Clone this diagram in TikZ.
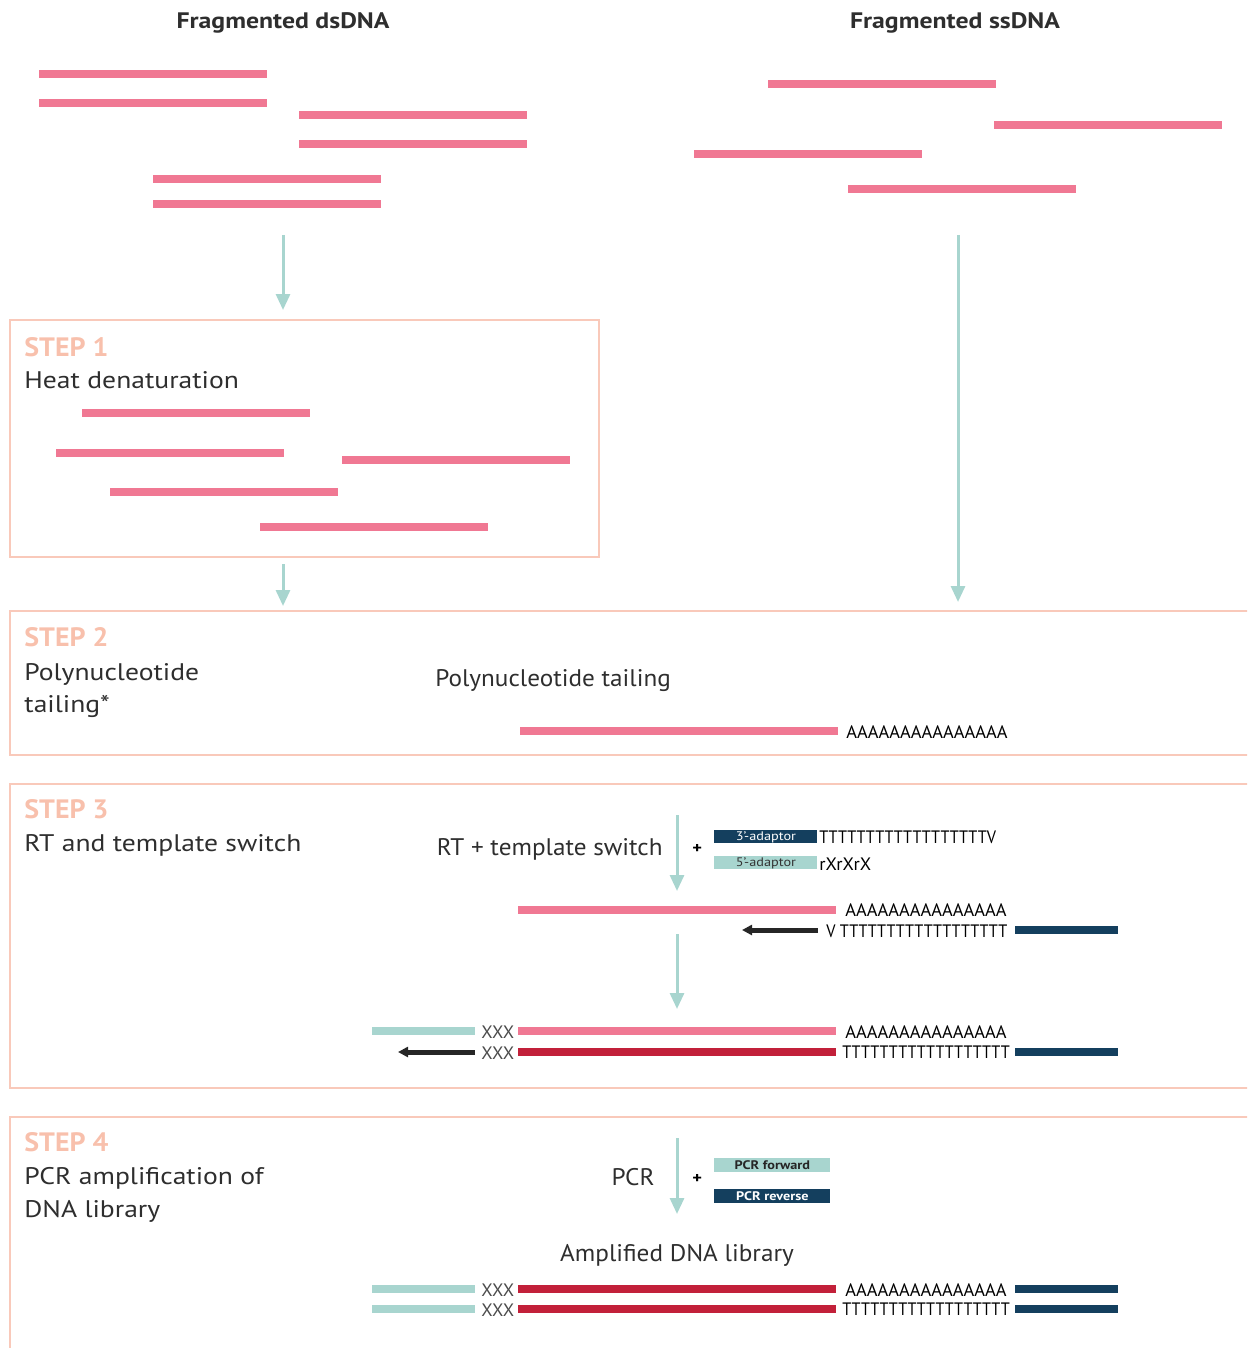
\documentclass[tikz,border=0pt]{standalone}
\usepackage{fontspec}
\setmainfont{PT Sans}[FakeStretch=1.15]
\newfontfamily\midfont{PT Sans}[FakeStretch=1.05]
\newfontfamily\seqafont{PT Sans}[FakeStretch=1.02]
\newfontfamily\seqtfont{PT Sans}[FakeStretch=0.9]
\usepackage{xcolor}
\usetikzlibrary{arrows.meta, positioning}

\definecolor{dnapink}{HTML}{F07893}
\definecolor{dnared}{HTML}{C2203A}
\definecolor{adaptblue}{HTML}{143F5E}
\definecolor{adaptteal}{HTML}{A8D5CF}
\definecolor{boxpeach}{HTML}{F9C9BA}
\definecolor{steppeach}{HTML}{F8C0AC}
\definecolor{txtgrey}{HTML}{2E2E2E}

\begin{document}
\begin{tikzpicture}[
    x=0.5pt, y=-0.5pt,
    strand/.style={line width=4pt, color=dnapink},
    rstrand/.style={line width=4pt, color=dnared},
    tstrand/.style={line width=4pt, color=adaptteal},
    bstrand/.style={line width=4pt, color=adaptblue},
    title/.style={font=\fontsize{11.2}{13}\selectfont\bfseries, text=txtgrey, inner sep=0pt},
    steplbl/.style={font=\midfont\fontsize{13.3}{15}\selectfont\bfseries, text=steppeach, anchor=base west, inner sep=0pt},
    body/.style={font=\fontsize{12}{14}\selectfont, text=txtgrey, anchor=base west, inner sep=0pt},
    midtxt/.style={font=\midfont\fontsize{12}{14}\selectfont, text=txtgrey, anchor=base west, inner sep=0pt},
    seq/.style={font=\seqafont\fontsize{9}{10}\selectfont, text=black, anchor=base west, inner sep=0pt},
    seqt/.style={seq, font=\seqtfont\fontsize{9}{10}\selectfont},
    xxx/.style={font=\seqafont\fontsize{9}{10}\selectfont, text=black!70, anchor=base west, inner sep=0pt},
    plus/.style={font=\fontsize{8}{9}\selectfont\bfseries, text=black, anchor=base west, inner sep=0pt},
    adbox/.style={rectangle, minimum width=51.5pt, minimum height=6.5pt, inner sep=0pt, anchor=north west, font=\fontsize{6.2}{7}\selectfont},
    stepbox/.style={draw=boxpeach, line width=1pt},
    arr/.style={-{Triangle[width=7pt,length=8pt]}, line width=1.5pt, color=adaptteal},
    barr/.style={-{Triangle[width=5pt,length=5pt]}, line width=2.5pt, color=black!85}
]
\clip (0,0) rectangle (1247,1348);

% titles
\node[title] (ds_title) at (283,23) {Fragmented dsDNA};
\node[title] (ss_title) at (955,23) {Fragmented ssDNA};

% fragmented dsDNA
\draw[strand] (39,74) -- (267,74);
\draw[strand] (39,103) -- (267,103);
\draw[strand] (299,115) -- (527,115);
\draw[strand] (299,144) -- (527,144);
\draw[strand] (153,179) -- (381,179);
\draw[strand] (153,204) -- (381,204);

% fragmented ssDNA
\draw[strand] (768,84) -- (996,84);
\draw[strand] (994,125) -- (1222,125);
\draw[strand] (694,154) -- (922,154);
\draw[strand] (848,189) -- (1076,189);

% step boxes
\draw[stepbox] (10,320) rectangle (599,557);
\draw[stepbox] (1260,611) -- (10,611) -- (10,755) -- (1260,755);
\draw[stepbox] (1260,784) -- (10,784) -- (10,1088) -- (1260,1088);
\draw[stepbox] (1260,1117) -- (10,1117) -- (10,1360);

% step 1
\node[steplbl] (s1_lbl) at (24,356) {STEP 1};
\node[body] (s1_txt) at (24,388) {Heat denaturation};
\draw[strand] (82,413) -- (310,413);
\draw[strand] (56,453) -- (284,453);
\draw[strand] (342,460) -- (570,460);
\draw[strand] (110,492) -- (338,492);
\draw[strand] (260,527) -- (488,527);

% step 2
\node[steplbl] (s2_lbl) at (24,646) {STEP 2};
\node[body] (s2_txt) at (24,680) {Polynucleotide};
\node[body] (s2_txt2) at (24,712) {tailing*};
\node[midtxt] (tail_txt) at (435,686) {Polynucleotide tailing};
\draw[strand] (520,731) -- (838,731);
\node[seq] (tail_a) at (846,738) {AAAAAAAAAAAAAAA};

% step 3
\node[steplbl] (s3_lbl) at (24,818) {STEP 3};
\node[body] (s3_txt) at (24,851) {RT and template switch};
\node[midtxt, anchor=base east] (rt_txt) at (663,855) {RT + template switch};
\node[plus] (rt_plus) at (692,853) {+};
\node[adbox, fill=adaptblue, text=white] (ad3) at (714,830) {3’-adaptor};
\node[seqt] (ad3_t) at (819,843) {TTTTTTTTTTTTTTTTTTV};
\node[adbox, fill=adaptteal, text=black!80] (ad5) at (714,856) {5’-adaptor};
\node[seq] (ad5_r) at (819,870) {rXrXrX};

\draw[strand] (518,910) -- (836,910);
\node[seq] (rt_a) at (845,916) {AAAAAAAAAAAAAAA};
\node[seqt] (rt_t) at (826,937) {V TTTTTTTTTTTTTTTTTT};
\draw[bstrand] (1015,930) -- (1118,930);

\draw[tstrand] (372,1031) -- (475,1031);
\node[xxx] (sw_x1) at (481,1038) {XXX};
\draw[strand] (518,1031) -- (836,1031);
\node[seq] (sw_a) at (845,1038) {AAAAAAAAAAAAAAA};
\node[xxx] (sw_x2) at (481,1059) {XXX};
\draw[rstrand] (518,1052) -- (836,1052);
\node[seqt] (sw_t) at (842,1058) {TTTTTTTTTTTTTTTTTT};
\draw[bstrand] (1015,1052) -- (1118,1052);

% step 4
\node[steplbl] (s4_lbl) at (24,1151) {STEP 4};
\node[body] (s4_txt) at (24,1184) {PCR amplification of};
\node[body] (s4_txt2) at (24,1217) {DNA library};
\node[midtxt, anchor=base east] (pcr_txt) at (655,1185) {PCR};
\node[plus] (pcr_plus) at (692,1183) {+};
\node[adbox, fill=adaptteal, text=black!85, minimum width=58pt, minimum height=7pt, font=\fontsize{6.2}{7}\selectfont\bfseries] (pcr_fw) at (714,1158) {PCR forward};
\node[adbox, fill=adaptblue, text=white, minimum width=58pt, minimum height=7pt, font=\fontsize{6.2}{7}\selectfont\bfseries] (pcr_rv) at (714,1189) {PCR reverse};
\node[midtxt, anchor=base] (lib_txt) at (677,1261) {Amplified DNA library};

\draw[tstrand] (372,1289) -- (475,1289);
\node[xxx] (lib_x1) at (481,1296) {XXX};
\draw[rstrand] (518,1289) -- (836,1289);
\node[seq] (lib_a) at (845,1296) {AAAAAAAAAAAAAAA};
\draw[bstrand] (1015,1289) -- (1118,1289);
\draw[tstrand] (372,1309) -- (475,1309);
\node[xxx] (lib_x2) at (481,1316) {XXX};
\draw[rstrand] (518,1309) -- (836,1309);
\node[seqt] (lib_t) at (842,1315) {TTTTTTTTTTTTTTTTTT};
\draw[bstrand] (1015,1309) -- (1118,1309);

% arrows
\coordinate (ds_a0) at (283,235);
\coordinate (ds_a1) at (283,310);
\coordinate (ss_a0) at (958,235);
\coordinate (ss_a1) at (958,602);
\coordinate (s1_a0) at (283,564);
\coordinate (s1_a1) at (283,606);
\coordinate (rt_a0) at (677,815);
\coordinate (rt_a1) at (677,891);
\coordinate (sw_a0) at (677,934);
\coordinate (sw_a1) at (677,1009);
\coordinate (pcr_a0) at (677,1138);
\coordinate (pcr_a1) at (677,1214);
\coordinate (rt_b0) at (818,930);
\coordinate (rt_b1) at (742,930);
\coordinate (sw_b0) at (475,1052);
\coordinate (sw_b1) at (398,1052);

\draw[arr] (ds_a0) -- (ds_a1);
\draw[arr] (ss_a0) -- (ss_a1);
\draw[arr] (s1_a0) -- (s1_a1);
\draw[arr] (rt_a0) -- (rt_a1);
\draw[arr] (sw_a0) -- (sw_a1);
\draw[arr] (pcr_a0) -- (pcr_a1);
\draw[barr] (rt_b0) -- (rt_b1);
\draw[barr] (sw_b0) -- (sw_b1);

\end{tikzpicture}
\end{document}
